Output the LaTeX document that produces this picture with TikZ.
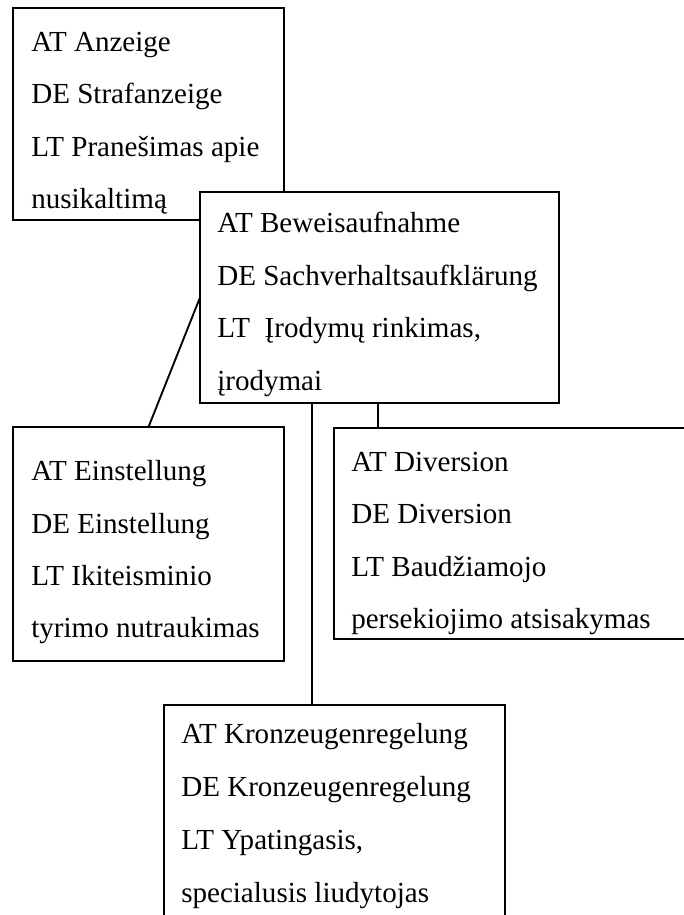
\documentclass[tikz,border=0pt]{standalone}
\usepackage{fontspec}
\setmainfont{Liberation Serif}
\usetikzlibrary{fit}
\tikzset{
  box/.style={draw, fill=white, line width=1.4pt, inner sep=0pt, outer sep=0pt},
  entry/.style={anchor=base west, inner sep=0pt, font=\fontsize{21.8}{26}\selectfont},
  link/.style={line width=1.4pt},
}
\begin{document}
\begin{tikzpicture}[x=0.75pt,y=-0.75pt]
\clip (0,0) rectangle (684,915);
\fill[white] (0,0) rectangle (684,915);

% Strafanzeige
\node[box, fit={(13,8) (284,220)}] (b1) {};
\node[entry] (t11) at (31,51)  {AT Anzeige};
\node[entry] (t12) at (31,103) {DE Strafanzeige};
\node[entry] (t13) at (31,156) {LT Pranešimas apie};
\node[entry] (t14) at (31,208) {nusikaltimą};

% Beweisaufnahme (lies over the corner of the first box)
\node[box, fit={(200,192) (559,403)}] (b2) {};
\node[entry] (t21) at (217,232) {AT Beweisaufnahme};
\node[entry] (t22) at (217,285) {DE Sachverhaltsaufklärung};
\node[entry] (t23) at (217,337) {LT\ \ Įrodymų rinkimas,};
\node[entry] (t24) at (217,390) {įrodymai};

% Einstellung
\node[box, fit={(13,427) (284,661)}] (b3) {};
\node[entry] (t31) at (31,480) {AT Einstellung};
\node[entry] (t32) at (31,533) {DE Einstellung};
\node[entry] (t33) at (31,585) {LT Ikiteisminio};
\node[entry] (t34) at (31,637) {tyrimo nutraukimas};

% Diversion
\node[box, fit={(334,428) (700,639)}] (b4) {};
\node[entry] (t41) at (351,471) {AT Diversion};
\node[entry] (t42) at (351,523) {DE Diversion};
\node[entry] (t43) at (351,576) {LT Baudžiamojo};
\node[entry] (t44) at (351,628) {persekiojimo atsisakymas};

% Kronzeugenregelung
\node[box, fit={(164,705) (505,940)}] (b5) {};
\node[entry] (t51) at (181,743) {AT Kronzeugenregelung};
\node[entry] (t52) at (181,796) {DE Kronzeugenregelung};
\node[entry] (t53) at (181,849) {LT Ypatingasis,};
\node[entry] (t54) at (181,902) {specialusis liudytojas};

% connectors
\coordinate (k5) at (312,0);
\coordinate (k4) at (378,0);
\draw[link] (b3.north) -- (b2.west);
\draw[link] (b2.south -| k5) -- (b5.north -| k5);
\draw[link] (b2.south -| k4) -- (b4.north -| k4);
\end{tikzpicture}
\end{document}
